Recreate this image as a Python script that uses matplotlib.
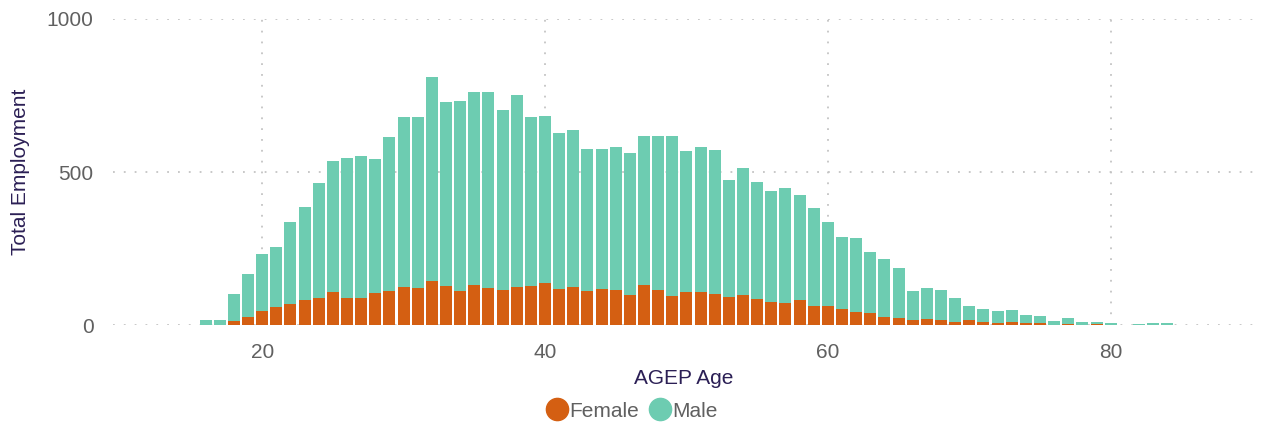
import numpy as np
import matplotlib
matplotlib.use('Agg')
import matplotlib.pyplot as plt
from matplotlib.lines import Line2D

plt.rcParams['font.family'] = ['Liberation Sans', 'DejaVu Sans']

ages = list(range(16, 81)) + [82, 83, 84]
female = [0, 0, 14, 27, 47, 60, 70, 83, 89, 109,
          89, 89, 105, 112, 125, 122, 145, 128, 112, 131,
          122, 115, 125, 128, 138, 119, 125, 112, 119, 115,
          99, 131, 115, 96, 109, 109, 102, 92, 99, 86,
          76, 73, 83, 63, 63, 53, 43, 40, 27, 24,
          17, 20, 17, 11, 17, 11, 7, 11, 7, 7,
          0, 4, 0, 4, 0, 0, 0, 0]
male = [17, 17, 88, 140, 186, 196, 267, 303, 376, 428,
        458, 464, 438, 503, 555, 558, 665, 601, 620, 630,
        639, 588, 627, 552, 545, 509, 512, 464, 457, 467,
        464, 487, 503, 522, 460, 473, 470, 382, 415, 382,
        362, 375, 342, 320, 274, 235, 242, 199, 189, 163,
        95, 102, 98, 78, 46, 42, 40, 39, 27, 23,
        14, 20, 11, 7, 7, 4, 7, 7]

female_color = '#D45F12'
male_color = '#6DCCB1'
title_color = '#2B1F55'
tick_color = '#606060'

fig = plt.figure(figsize=(12.62, 4.23), dpi=100)
ax = fig.add_axes([113 / 1262, 1 - 325 / 423, (1255 - 113) / 1262, (325 - 19) / 423])

ax.bar(ages, female, width=0.85, color=female_color, zorder=3)
ax.bar(ages, male, width=0.85, bottom=female, color=male_color, zorder=3)

ax.set_xlim(9.45, 90.2)
ax.set_ylim(0, 1000)
ax.set_xticks([20, 40, 60, 80])
ax.set_yticks([0, 500, 1000])
ax.grid(True, color='#c4c4c4', linestyle=(0, (1, 5)), linewidth=1.3, zorder=0)
ax.set_axisbelow(True)
for s in ax.spines.values():
    s.set_visible(False)
ax.tick_params(axis='both', length=0, labelsize=15, labelcolor=tick_color)
ax.tick_params(axis='x', pad=13)
ax.tick_params(axis='y', pad=14)

ax.set_xlabel('AGEP Age', fontsize=15, color=title_color, labelpad=5)
ax.set_ylabel('Total Employment', fontsize=15, color=title_color, labelpad=12)

handles = [Line2D([], [], marker='o', linestyle='', markersize=16, color=female_color),
           Line2D([], [], marker='o', linestyle='', markersize=16, color=male_color)]
leg = fig.legend(handles, ['Female', 'Male'], loc='center', bbox_to_anchor=(0.5, 12 / 423),
                 ncol=2, frameon=False, fontsize=15, handletextpad=0.0,
                 columnspacing=0.4, handlelength=1.2, borderpad=0)
for t in leg.get_texts():
    t.set_color(tick_color)

fig.savefig('out.png', dpi=100)
